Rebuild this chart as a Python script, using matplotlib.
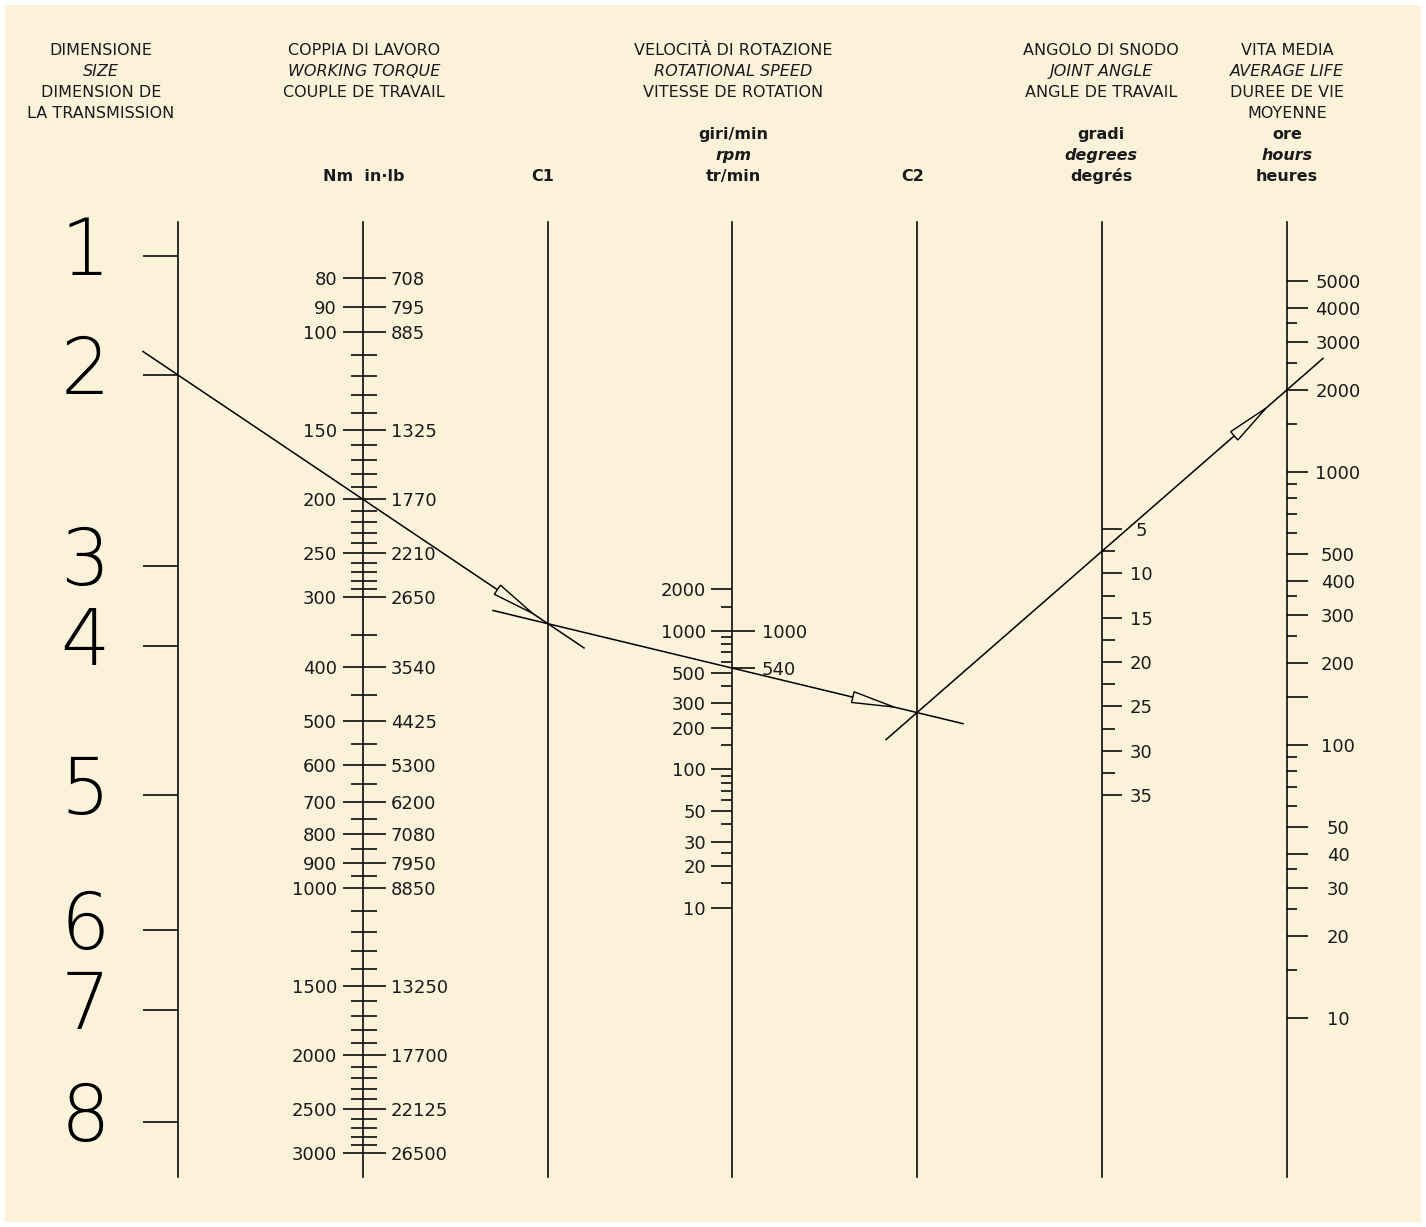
import numpy as np
import matplotlib
matplotlib.use("Agg")
import matplotlib.pyplot as plt
from matplotlib.patches import Polygon, Rectangle

# ---------------- data ----------------
size_labels = ["1", "2", "3", "4", "5", "6", "7", "8"]
size_rated_torque_nm = [73, 119.5, 263.5, 367, 680, 1190, 1657, 2635]

torque_major_nm = [80, 90, 100, 150, 200, 250, 300, 400, 500, 600, 700, 800,
                   900, 1000, 1500, 2000, 2500, 3000]
torque_major_inlb = ["708", "795", "885", "1325", "1770", "2210", "2650", "3540",
                     "4425", "5300", "6200", "7080", "7950", "8850", "13250",
                     "17700", "22125", "26500"]
torque_minor_nm = [110, 120, 130, 140, 160, 170, 180, 190, 210, 220, 230, 240,
                   260, 270, 280, 290, 350, 450, 550, 650, 750, 850, 950, 1100,
                   1200, 1300, 1400, 1600, 1700, 1800, 1900, 2100, 2200, 2300,
                   2400, 2600, 2700, 2800, 2900]

speed_major = [2000, 1000, 500, 300, 200, 100, 50, 30, 20, 10]
speed_minor = [1500, 900, 800, 700, 600, 400, 250, 150, 90, 80, 70, 60, 40, 25, 15]
speed_right = [1000, 540]

angle_major = [5, 10, 15, 20, 25, 30, 35]
angle_minor = [7.5, 12.5, 17.5, 22.5, 27.5, 32.5]

life_major = [5000, 4000, 3000, 2000, 1000, 500, 400, 300, 200, 100, 50, 40, 30, 20, 10]
life_major_unlabeled = [150]
life_minor = [3500, 2500, 1500, 900, 800, 700, 600, 350, 250, 90, 80, 70, 60, 35, 25, 15]

example_size_index = 1      # size "2"
example_torque = 200
example_speed = 540
example_life = 2000

headers = {
    "size": ["DIMENSIONE", "SIZE", "DIMENSION DE", "LA TRANSMISSION"],
    "torque": ["COPPIA DI LAVORO", "WORKING TORQUE", "COUPLE DE TRAVAIL"],
    "speed": ["VELOCITÀ DI ROTAZIONE", "ROTATIONAL SPEED", "VITESSE DE ROTATION"],
    "angle": ["ANGOLO DI SNODO", "JOINT ANGLE", "ANGLE DE TRAVAIL"],
    "life": ["VITA MEDIA", "AVERAGE LIFE", "DUREE DE VIE", "MOYENNE"],
}
units = {
    "torque": ["Nm  in·lb"],
    "speed": ["giri/min", "rpm", "tr/min"],
    "angle": ["gradi", "degrees", "degrés"],
    "life": ["ore", "hours", "heures"],
}

# ---------------- layout ----------------
BG = "#FCF2D9"
FONT = "DejaVu Sans"
X_SIZE, X_TORQUE, X_C1, X_SPEED, X_C2, X_ANGLE, X_LIFE = 178, 363, 548, 732, 917, 1102, 1287
Y_TOP, Y_BOT = 222, 1177
LW = 1.15


def y_torque(v):
    return 332 + 556 * (np.log10(v) - 2)


def y_speed(v):
    return 631 - 138.4 * (np.log10(v) - 3)


def y_angle(a):
    return 529 + 8.87 * (np.asarray(a) - 5)


def y_life(h):
    return 472 - 273 * (np.log10(h) - 3)


fig = plt.figure(figsize=(14.26, 12.27), dpi=100)
fig.patch.set_facecolor("white")
ax = fig.add_axes([0, 0, 1, 1])
ax.set_xlim(0, 1426)
ax.set_ylim(1227, 0)
ax.axis("off")
ax.add_patch(Rectangle((5, 5), 1416, 1217, facecolor=BG, edgecolor="none", zorder=0))

# vertical axes
for x in [X_SIZE, X_TORQUE, X_C1, X_SPEED, X_C2, X_ANGLE, X_LIFE]:
    ax.plot([x, x], [Y_TOP, Y_BOT], color="black", lw=LW, zorder=2)


def hticks(x0, x1, ys):
    for y in np.atleast_1d(ys):
        ax.plot([x0, x1], [y, y], color="black", lw=LW, zorder=2,
                solid_capstyle="butt")


NUM = dict(fontsize=13, family=FONT, color="#1a1a1a", va="center_baseline")

# size axis
ys = y_torque(np.array(size_rated_torque_nm))
hticks(X_SIZE - 35, X_SIZE, ys)
for lab, y in zip(size_labels, ys):
    ax.text(85, y - 3, lab, fontsize=56, family=FONT, fontweight="light",
            ha="center", va="center", color="black")

# torque axis
yt = y_torque(np.array(torque_major_nm))
hticks(X_TORQUE - 20, X_TORQUE + 23, yt)
hticks(X_TORQUE - 12, X_TORQUE + 14, y_torque(np.array(torque_minor_nm)))
for v, r, y in zip(torque_major_nm, torque_major_inlb, yt):
    ax.text(X_TORQUE - 26, y, str(v), ha="right", **NUM)
    ax.text(X_TORQUE + 28, y, r, ha="left", **NUM)

# speed axis
ysp = y_speed(np.array(speed_major))
hticks(X_SPEED - 21, X_SPEED, ysp)
hticks(X_SPEED - 11, X_SPEED, y_speed(np.array(speed_minor)))
for v, y in zip(speed_major, ysp):
    ax.text(X_SPEED - 26, y, str(v), ha="right", **NUM)
ysr = y_speed(np.array(speed_right))
hticks(X_SPEED, X_SPEED + 23, ysr)
for v, y in zip(speed_right, ysr):
    ax.text(X_SPEED + 30, y, str(v), ha="left", **NUM)

# angle axis
ya = y_angle(angle_major)
hticks(X_ANGLE, X_ANGLE + 20, ya)
hticks(X_ANGLE, X_ANGLE + 13, y_angle(angle_minor))
for v, y in zip(angle_major, ya):
    ax.text(X_ANGLE + 39, y, str(v), ha="center", **NUM)

# life axis
yl = y_life(np.array(life_major))
hticks(X_LIFE, X_LIFE + 21, yl)
hticks(X_LIFE, X_LIFE + 21, y_life(np.array(life_major_unlabeled)))
hticks(X_LIFE, X_LIFE + 10, y_life(np.array(life_minor)))
for v, y in zip(life_major, yl):
    ax.text(X_LIFE + 51, y, str(v), ha="center", **NUM)

# headers
HDR = dict(fontsize=11.5, family=FONT, color="#1a1a1a", ha="center", va="center_baseline")
head_x = {"size": 101, "torque": 364, "speed": 733, "angle": 1101, "life": 1287}
for key, lines in headers.items():
    for i, t in enumerate(lines):
        ax.text(head_x[key], 49 + 21 * i, t, style="italic" if i == 1 else "normal", **HDR)
for key, lines in units.items():
    n = len(lines)
    for i, t in enumerate(lines):
        y = 175 - 21 * (n - 1 - i)
        ax.text(head_x[key], y, t, fontweight="bold",
                style="italic" if (n == 3 and i == 1) else "normal", **HDR)
ax.text(X_C1 - 5, 175, "C1", fontweight="bold", **HDR)
ax.text(X_C2 - 4, 175, "C2", fontweight="bold", **HDR)


# ---------------- example construction ----------------
def y_at(p, q, x):
    s = (q[1] - p[1]) / (q[0] - p[0])
    return p[1] + s * (x - p[0])


def draw_line(p, q, x0, x1):
    ax.plot([x0, x1], [y_at(p, q, x0), y_at(p, q, x1)], color="black", lw=1.1, zorder=3)


def draw_arrow(p_from, p_to, back, length=42, half=5.5):
    a = np.array(p_from, float)
    b = np.array(p_to, float)
    d = (b - a) / np.linalg.norm(b - a)
    n = np.array([-d[1], d[0]])
    tip = b - d * back
    base = tip - d * length
    ax.add_patch(Polygon([tip, base + n * half, base - n * half], closed=True,
                         facecolor=BG, edgecolor="black", lw=1.0, zorder=5))


P_size = (X_SIZE, y_torque(size_rated_torque_nm[example_size_index]))
P_torque = (X_TORQUE, y_torque(example_torque))
P_c1 = (X_C1, y_at(P_size, P_torque, X_C1))
P_speed = (X_SPEED, y_speed(example_speed))
P_c2 = (X_C2, y_at(P_c1, P_speed, X_C2))
P_life = (X_LIFE, y_life(example_life))

draw_line(P_size, P_torque, X_SIZE - 35, X_C1 + 36)
draw_line(P_c1, P_speed, X_C1 - 55, X_C2 + 46)
draw_line(P_c2, P_life, X_C2 - 31, X_LIFE + 36)

draw_arrow(P_size, P_c1, back=19)
draw_arrow(P_c1, P_c2, back=24)
draw_arrow(P_c2, P_life, back=28)

fig.savefig("out.png", dpi=100, facecolor=fig.get_facecolor())
